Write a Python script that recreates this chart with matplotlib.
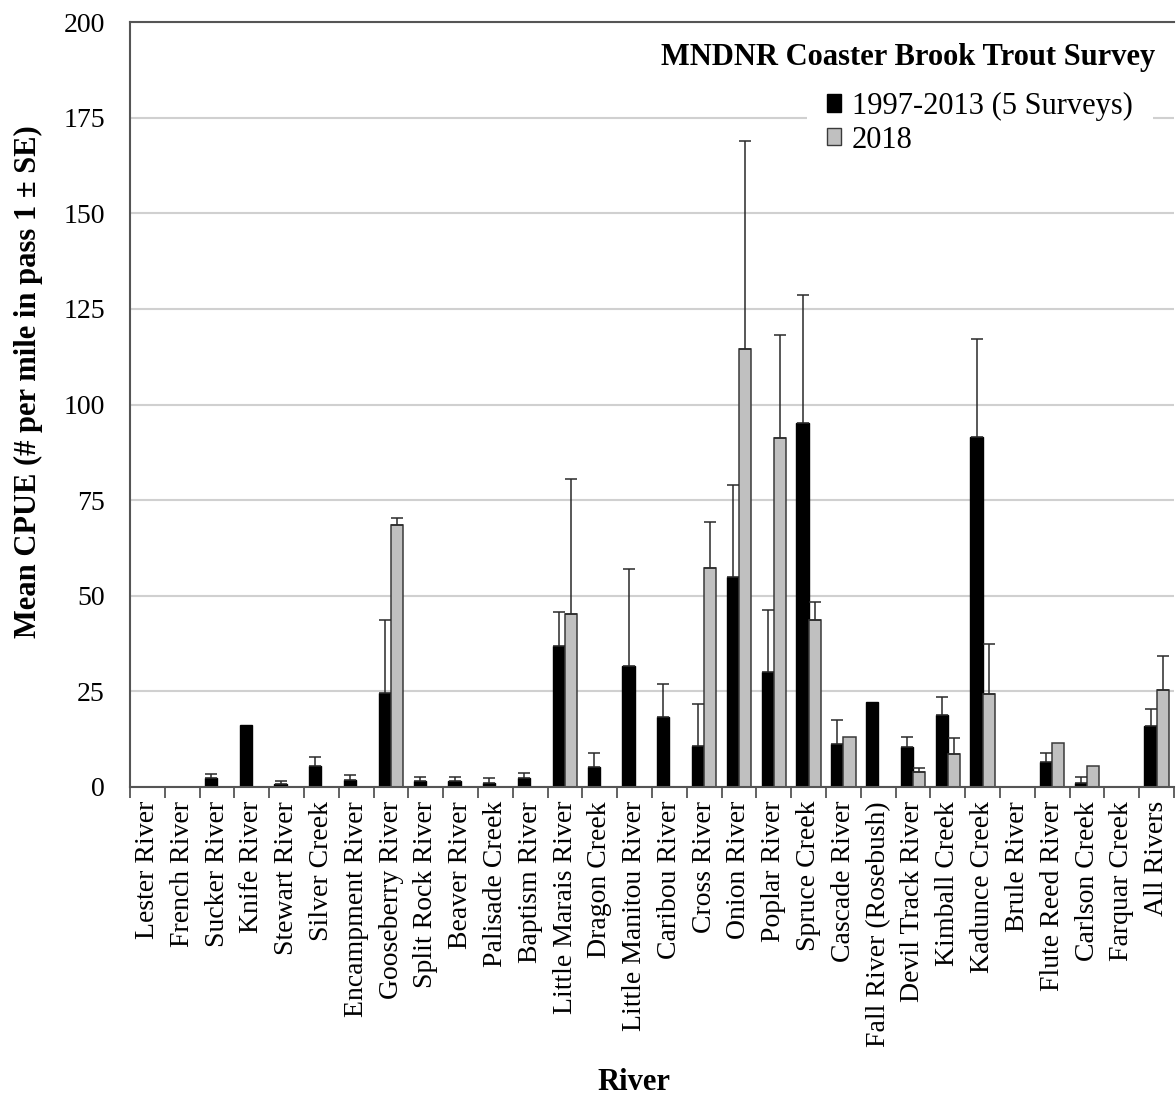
import numpy as np
from matplotlib import pyplot as plt
from matplotlib.patches import Patch

plt.rcParams['font.family'] = ['Liberation Serif', 'DejaVu Serif']

rivers = ['Lester River', 'French River', 'Sucker River', 'Knife River', 'Stewart River',
          'Silver Creek', 'Encampment River', 'Gooseberry River', 'Split Rock River',
          'Beaver River', 'Palisade Creek', 'Baptism River', 'Little Marais River',
          'Dragon Creek', 'Little Manitou River', 'Caribou River', 'Cross River',
          'Onion River', 'Poplar River', 'Spruce Creek', 'Cascade River',
          'Fall River (Rosebush)', 'Devil Track River', 'Kimball Creek', 'Kadunce Creek',
          'Brule River', 'Flute Reed River', 'Carlson Creek', 'Farquar Creek', 'All Rivers']

# 1997-2013 (5 surveys) mean CPUE and upper SE
mean_hist = [0, 0, 2.4, 16.1, 0.9, 5.4, 1.8, 24.5, 1.5, 1.5, 1.1, 2.4, 36.9, 5.3, 31.6,
             18.3, 10.8, 55.0, 30.0, 95.2, 11.2, 22.2, 10.5, 18.9, 91.4, 0, 6.6, 1.1, 0, 16.0]
se_hist = [0, 0, 1.1, 0, 0.6, 2.5, 1.3, 19.2, 1.2, 1.2, 1.3, 1.3, 8.9, 3.7, 25.3,
           8.7, 11.0, 24.0, 16.2, 33.5, 6.3, 0, 2.7, 4.6, 25.6, 0, 2.2, 1.5, 0, 4.3]

# 2018 survey
mean_2018 = [0, 0, 0, 0, 0, 0, 0, 68.4, 0, 0, 0, 0, 45.2, 0, 0,
             0, 57.3, 114.4, 91.3, 43.6, 13.1, 0, 4.0, 8.5, 24.4, 0, 11.4, 5.6, 0, 25.4]
se_2018 = [0, 0, 0, 0, 0, 0, 0, 2.0, 0, 0, 0, 0, 35.4, 0, 0,
           0, 12.0, 54.5, 27.0, 4.8, 0, 0, 1.0, 4.2, 13.1, 0, 0, 0, 0, 8.8]

labels = ['1997-2013 (5 Surveys)', '2018']
yticks = [0, 25, 50, 75, 100, 125, 150, 175, 200]

W, H = 1176, 1099
fig = plt.figure(figsize=(W / 100, H / 100), dpi=100)
ax = fig.add_axes([130 / W, 1 - 787 / H, (1174 - 130) / W, (787 - 22) / H])

x = np.arange(len(rivers))
w = 0.35
mh = np.array(mean_hist)
sh = np.array(se_hist)
m18 = np.array(mean_2018)
s18 = np.array(se_2018)

ax.bar(x - w / 2, mh, width=w, color='black', edgecolor='black', linewidth=1, zorder=2)
ax.bar(x + w / 2, m18, width=w, color='#c0c0c0', edgecolor='#3a3a3a', linewidth=1.1, zorder=2)

# only the upper half of the error bars is drawn
err_kw = dict(fmt='none', ecolor='#2a2a2a', elinewidth=1.1, capsize=4.3, capthick=1.1, zorder=3)
k = sh > 0
ax.errorbar(x[k] - w / 2, mh[k], yerr=[np.zeros(k.sum()), sh[k]], **err_kw)
k = s18 > 0
ax.errorbar(x[k] + w / 2, m18[k], yerr=[np.zeros(k.sum()), s18[k]], **err_kw)

ax.set_xlim(-0.5, len(rivers) - 0.5)
ax.set_ylim(0, 200)
ax.set_yticks(yticks)
ax.tick_params(axis='y', length=0, pad=18, labelsize=20)
ax.set_xticks(x)
ax.set_xticklabels(rivers, rotation=90, fontsize=20)
ax.set_xticks(np.arange(len(rivers) + 1) - 0.5, minor=True)
ax.tick_params(axis='x', which='major', length=0, pad=10)
ax.tick_params(axis='x', which='minor', length=8, width=1.3, color='#555555')

ax.yaxis.grid(True, color='#d0d0d0', linewidth=1.5)
ax.set_axisbelow(True)
for s in ['left', 'bottom', 'top']:
    ax.spines[s].set_color('#555555')
    ax.spines[s].set_linewidth(1.5)
ax.spines['right'].set_visible(False)

handles = [Patch(facecolor='black', edgecolor='black'),
           Patch(facecolor='#c0c0c0', edgecolor='#3a3a3a')]
leg = fig.legend(handles, labels, loc='upper left', bbox_to_anchor=(807 / W, 1 - 72 / H),
                 fontsize=22, frameon=True, fancybox=False, framealpha=1, borderpad=0.65,
                 handlelength=0.46, handleheight=0.5, handletextpad=0.36, labelspacing=0.15,
                 borderaxespad=0)
leg.get_frame().set_edgecolor('none')
leg.get_frame().set_facecolor('white')

fig.text(1155 / W, 1 - 58 / H, 'MNDNR Coaster Brook Trout Survey', fontsize=22,
         fontweight='bold', ha='right', va='center')
fig.text(634 / W, 1 - 1082 / H, 'River', fontsize=22, fontweight='bold', ha='center', va='center')
fig.text(28 / W, 1 - 382 / H, 'Mean CPUE (# per mile in pass 1 \u00b1 SE)', fontsize=22,
         fontweight='bold', rotation=90, ha='center', va='center')

plt.savefig('out.png', dpi=100)
